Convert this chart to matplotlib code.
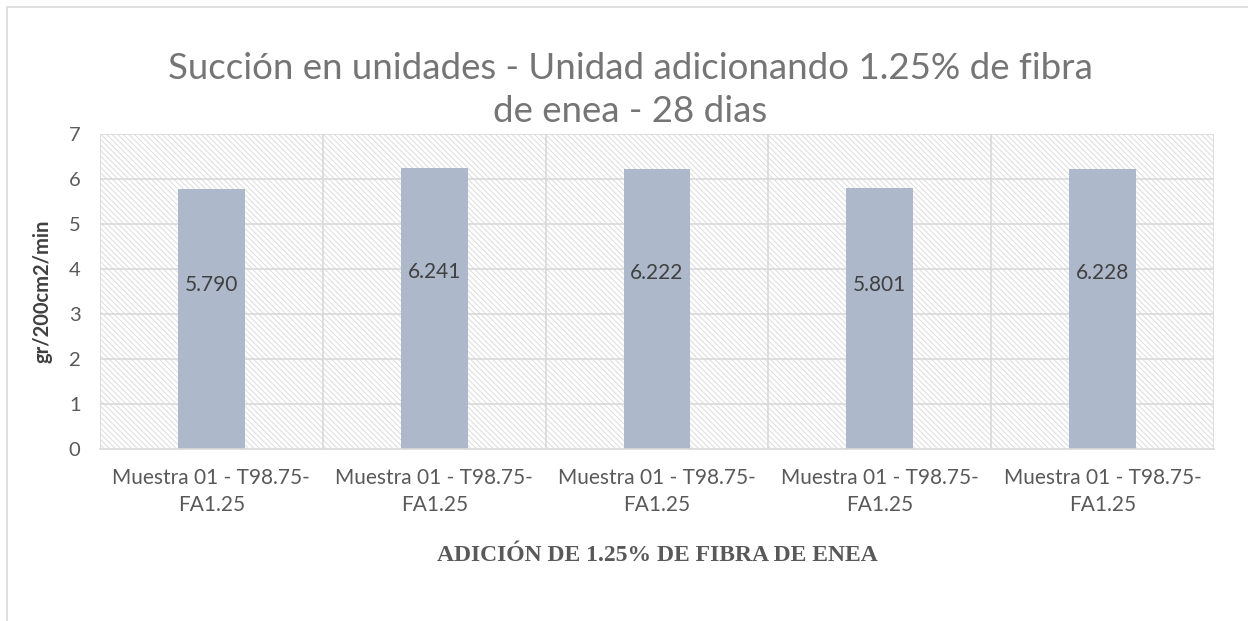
import matplotlib
matplotlib.use('Agg')
import matplotlib.pyplot as plt
from matplotlib.patches import Rectangle

categories = ['Muestra 01 - T98.75-\nFA1.25'] * 5
values = [5.790, 6.241, 6.222, 5.801, 6.228]
value_labels = ['5.790', '6.241', '6.222', '5.801', '6.228']

plt.rcParams['font.family'] = ['Lato', 'DejaVu Sans']
plt.rcParams['hatch.color'] = '#dcdcdc'
plt.rcParams['hatch.linewidth'] = 0.7

fig = plt.figure(figsize=(12.48, 6.21), dpi=100)
ax = fig.add_axes([0.0801, 0.277, 0.8927, 0.507])

# chart frame
fig.patches.append(Rectangle((7 / 1248, -0.1), 1.2, 1.1 - 7 / 621, transform=fig.transFigure,
                             fill=False, edgecolor='#d9d9d9', linewidth=1.2))

x = list(range(len(values)))
ax.set_xlim(-0.5, len(values) - 0.5)
ax.set_ylim(0, 7)

# hatched plot area
ax.add_patch(Rectangle((-0.5, 0), len(values), 7, facecolor='white', edgecolor='#dcdcdc',
                       hatch='\\\\\\\\\\\\', linewidth=0, zorder=0))

for yv in range(1, 8):
    ax.axhline(yv, color='#d9d9d9', linewidth=1.2, zorder=1)
for xv in range(len(values) + 1):
    ax.axvline(xv - 0.5, color='#d9d9d9', linewidth=1.2, zorder=1)

ax.bar(x, values, width=0.3, color='#adb9ca', zorder=2)
for xi, v, lbl in zip(x, values, value_labels):
    ax.text(xi, v * 0.63, lbl, ha='center', va='center', fontsize=15, color='#404040', zorder=3)

for s in ['top', 'right', 'left']:
    ax.spines[s].set_visible(False)
ax.spines['bottom'].set_color('#d9d9d9')
ax.spines['bottom'].set_linewidth(1.2)

ax.set_xticks(x)
ax.set_xticklabels(categories, fontsize=15, color='#595959', linespacing=1.4)
ax.set_yticks(range(0, 8))
ax.tick_params(axis='y', length=0, labelsize=14.5, labelcolor='#595959', pad=14)
ax.tick_params(axis='x', length=0, pad=14)
ax.set_ylabel('gr/200cm2/min', fontsize=14.5, fontweight='bold', color='#404040', labelpad=12)
ax.set_xlabel('ADICIÓN DE 1.25% DE FIBRA DE ENEA', fontsize=17, fontweight='bold',
              family='Liberation Serif', color='#595959', labelpad=22)

fig.text(0.505, 0.855, 'Succión en unidades - Unidad adicionando 1.25% de fibra\nde enea - 28 dias',
         ha='center', va='center', fontsize=26.4, color='#757575', linespacing=1.35)

fig.savefig('out.png', dpi=100)
